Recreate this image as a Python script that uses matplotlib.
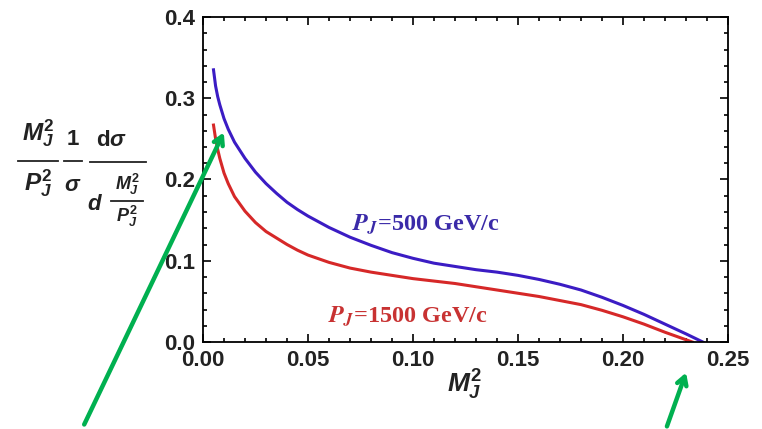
import numpy as np
import matplotlib
matplotlib.use('Agg')
import matplotlib.pyplot as plt
from matplotlib.lines import Line2D
from matplotlib.ticker import MultipleLocator, FormatStrFormatter

plt.rcParams['mathtext.fontset'] = 'custom'
plt.rcParams['mathtext.it'] = 'Liberation Sans:bold:italic'
plt.rcParams['mathtext.rm'] = 'Liberation Sans:bold'
plt.rcParams['mathtext.bf'] = 'Liberation Sans:bold'

# values
x_500 = [0.005, 0.006, 0.007, 0.008, 0.010, 0.012, 0.015, 0.02, 0.025, 0.03, 0.035, 0.04,
         0.045, 0.05, 0.06, 0.07, 0.08, 0.09, 0.10, 0.11, 0.12, 0.13, 0.14, 0.15, 0.16,
         0.17, 0.18, 0.19, 0.20, 0.21, 0.22, 0.23, 0.238]
y_500 = [0.335, 0.315, 0.302, 0.292, 0.275, 0.262, 0.246, 0.226, 0.209, 0.195, 0.183, 0.172,
         0.163, 0.155, 0.141, 0.129, 0.119, 0.110, 0.103, 0.097, 0.093, 0.089, 0.086, 0.082, 0.077,
         0.071, 0.064, 0.055, 0.045, 0.034, 0.022, 0.010, 0.0]
x_1500 = [0.005, 0.006, 0.007, 0.008, 0.010, 0.012, 0.015, 0.02, 0.025, 0.03, 0.035, 0.04,
          0.045, 0.05, 0.06, 0.07, 0.08, 0.09, 0.10, 0.11, 0.12, 0.13, 0.14, 0.15, 0.16,
          0.17, 0.18, 0.19, 0.20, 0.21, 0.22, 0.233]
y_1500 = [0.267, 0.250, 0.237, 0.226, 0.208, 0.195, 0.179, 0.161, 0.147, 0.136, 0.128, 0.120,
          0.113, 0.107, 0.098, 0.091, 0.086, 0.082, 0.078, 0.075, 0.072, 0.068, 0.064, 0.060, 0.056,
          0.051, 0.046, 0.039, 0.031, 0.022, 0.012, 0.0]

W, H = 762, 429


def px(x, y):
    return x / W, 1 - y / H


fig = plt.figure(figsize=(W / 100, H / 100), dpi=100)
ax = fig.add_axes([203/W, 1-342/H, 525/W, 325/H])

ax.plot(x_500, y_500, color='#3b1cc4', lw=2.2, solid_joinstyle='round')
ax.plot(x_1500, y_1500, color='#d62828', lw=2.2, solid_joinstyle='round')

ax.set_xlim(0, 0.25)
ax.set_ylim(0, 0.4)
ax.xaxis.set_major_locator(MultipleLocator(0.05))
ax.xaxis.set_minor_locator(MultipleLocator(0.01))
ax.yaxis.set_major_locator(MultipleLocator(0.1))
ax.yaxis.set_minor_locator(MultipleLocator(0.02))
ax.xaxis.set_major_formatter(FormatStrFormatter('%.2f'))
ax.yaxis.set_major_formatter(FormatStrFormatter('%.1f'))
ax.tick_params(which='both', direction='in', top=True, right=True, width=1.2, colors='black')
ax.tick_params(which='major', length=6, pad=6)
ax.tick_params(which='minor', length=3)
for lab in ax.get_xticklabels() + ax.get_yticklabels():
    lab.set_fontfamily('Liberation Sans')
    lab.set_fontweight('bold')
    lab.set_fontsize(16)
    lab.set_color('#222222')
for sp in ax.spines.values():
    sp.set_linewidth(1.3)

ax.text(0.071, 0.145, r'$\mathbfit{P}_{\mathbfit{J}}$=500 GeV/c', color='#3a2aa8',
        fontsize=17.5, fontfamily='Liberation Serif', fontweight='bold', math_fontfamily='stix',
        va='center', ha='left')
ax.text(0.0595, 0.032, r'$\mathbfit{P}_{\mathbfit{J}}$=1500 GeV/c', color='#c83232',
        fontsize=17.5, fontfamily='Liberation Serif', fontweight='bold', math_fontfamily='stix',
        va='center', ha='left')

ink = '#222222'
fig.text(*px(465, 385), r'$M_J^2$', fontsize=19, ha='center', va='center', color=ink)

# y label built piece by piece: (M²/P²)(1/σ)(dσ / d(M²/P²))
big, mid, small = 17.5, 16, 13
pieces = [
    (38, 133, r'$M_J^2$', big), (38, 183, r'$P_J^2$', big),
    (73, 139, r'$\mathrm{1}$', mid), (73, 185, r'$\sigma$', mid),
    (112, 140, r'$\mathrm{d}\sigma$', mid), (95, 204, r'$d$', mid),
    (127, 184, r'$M_J^2$', small), (127, 216, r'$P_J^2$', small),
]
for x, y, s, fs in pieces:
    fig.text(*px(x, y), s, fontsize=fs, ha='center', va='center', color=ink)
bars = [(18, 58, 161), (64, 82, 161), (90, 146, 162), (111, 143, 201)]
for x0, x1, y in bars:
    (fx0, fy), (fx1, _) = px(x0, y), px(x1, y)
    fig.add_artist(Line2D([fx0, fx1], [fy, fy], transform=fig.transFigure, color=ink, lw=1.3))

green = '#00b050'
ax.annotate('', xy=px(225, 130), xytext=px(83, 427),
            xycoords='figure fraction', textcoords='figure fraction',
            arrowprops=dict(arrowstyle='->,head_length=0.6,head_width=0.35', color=green, lw=3.2),
            annotation_clip=False)
ax.annotate('', xy=px(687, 370), xytext=px(666, 429),
            xycoords='figure fraction', textcoords='figure fraction',
            arrowprops=dict(arrowstyle='->,head_length=0.6,head_width=0.35', color=green, lw=3.2),
            annotation_clip=False)

fig.savefig('out.png', dpi=100)
